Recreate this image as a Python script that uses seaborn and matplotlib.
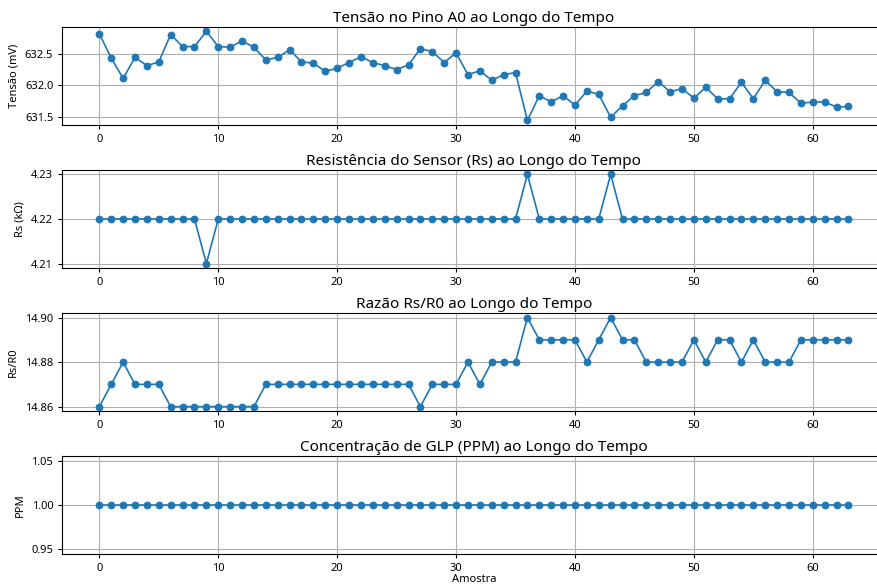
import seaborn as sns
import matplotlib.pyplot as plt
import pandas as pd

amostra = list(range(64))

tensao = [632.81, 632.43, 632.11, 632.44, 632.31, 632.37, 632.80, 632.61, 632.61, 632.85,
          632.61, 632.60, 632.70, 632.60, 632.40, 632.44, 632.56, 632.37, 632.35, 632.22,
          632.27, 632.36, 632.45, 632.36, 632.31, 632.25, 632.32, 632.58, 632.53, 632.36,
          632.51, 632.17, 632.23, 632.08, 632.17, 632.20, 631.45, 631.84, 631.74, 631.84,
          631.69, 631.91, 631.86, 631.50, 631.68, 631.84, 631.89, 632.06, 631.90, 631.95,
          631.80, 631.97, 631.79, 631.79, 632.05, 631.79, 632.08, 631.90, 631.89, 631.72,
          631.74, 631.74, 631.66, 631.67]

rs = [4.22] * 64
rs[9] = 4.21
rs[36] = 4.23
rs[43] = 4.23

razao = [14.86, 14.87, 14.88, 14.87, 14.87, 14.87, 14.86, 14.86, 14.86, 14.86,
         14.86, 14.86, 14.86, 14.86, 14.87, 14.87, 14.87, 14.87, 14.87, 14.87,
         14.87, 14.87, 14.87, 14.87, 14.87, 14.87, 14.87, 14.86, 14.87, 14.87,
         14.87, 14.88, 14.87, 14.88, 14.88, 14.88, 14.90, 14.89, 14.89, 14.89,
         14.89, 14.88, 14.89, 14.90, 14.89, 14.89, 14.88, 14.88, 14.88, 14.88,
         14.89, 14.88, 14.89, 14.89, 14.88, 14.89, 14.88, 14.88, 14.88, 14.89,
         14.89, 14.89, 14.89, 14.89]

ppm = [1.00] * 64

titulos = ['Tensão no Pino A0 ao Longo do Tempo',
           'Resistência do Sensor (Rs) ao Longo do Tempo',
           'Razão Rs/R0 ao Longo do Tempo',
           'Concentração de GLP (PPM) ao Longo do Tempo']
ylabels = ['Tensão (mV)', 'Rs (kΩ)', 'Rs/R0', 'PPM']
yticks = [None, [4.21, 4.22, 4.23], [14.86, 14.88, 14.90], [0.95, 1.00, 1.05]]
ytick_fmt = ['%.1f', '%.2f', '%.2f', '%.2f']

df = pd.DataFrame({'Amostra': amostra, 'Tensao': tensao, 'Rs': rs,
                   'Razao': razao, 'PPM': ppm})
colunas = ['Tensao', 'Rs', 'Razao', 'PPM']

plt.rcParams['font.family'] = ['Noto Sans', 'DejaVu Sans']
plt.rcParams['font.size'] = 8
plt.rcParams['axes.titlesize'] = 11
plt.rcParams['axes.labelsize'] = 8
plt.rcParams['xtick.major.size'] = 2.8
plt.rcParams['ytick.major.size'] = 2.8

fig, axes = plt.subplots(4, 1, figsize=(8.78, 5.84), dpi=100)
fig.subplots_adjust(left=0.0705, right=1.009, top=0.954, bottom=0.051, hspace=0.46)

for i, ax in enumerate(axes):
    sns.lineplot(data=df, x='Amostra', y=colunas[i], ax=ax, marker='o',
                 color='#1f77b4', markersize=4.8, linewidth=1.2,
                 markeredgecolor='#1f77b4', markeredgewidth=0.8)
    ax.set_title(titulos[i], pad=3.5)
    ax.set_ylabel(ylabels[i])
    ax.set_xlabel('Amostra' if i == 3 else '', labelpad=0)
    if yticks[i] is not None:
        ax.set_yticks(yticks[i])
    if i == 3:
        ax.set_ylim(0.944, 1.056)
    ax.yaxis.set_major_formatter(plt.FormatStrFormatter(ytick_fmt[i]))
    ax.set_xticks([0, 10, 20, 30, 40, 50, 60])
    ax.grid(True)

fig.savefig('out.png', dpi=100)
